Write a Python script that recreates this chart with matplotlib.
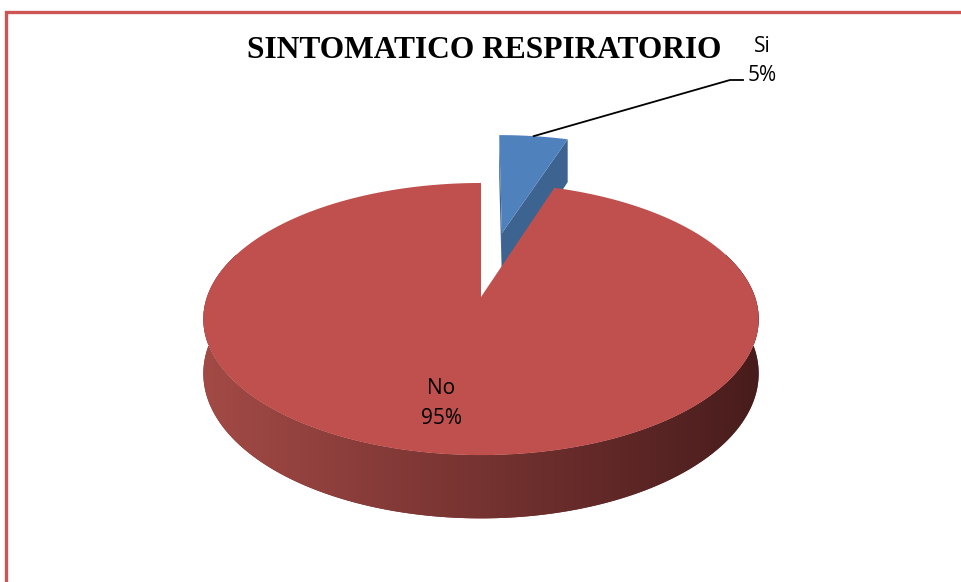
import numpy as np
import matplotlib.pyplot as plt
from matplotlib.patches import Polygon

# datos del grafico
labels = ["Si", "No"]
values = [5, 95]
colors = ["#4F81BD", "#C0504D"]
side_colors = ["#3D6491", None]
explode = [0.53, 0.0]
title = "SINTOMATICO RESPIRATORIO"

W, H = 961, 582
fig = plt.figure(figsize=(W / 100, H / 100), dpi=100)
ax = fig.add_axes([0, 0, 1, 1])
ax.axis("off")

# geometria del pastel 3D (perspectiva simple)
cx, cy, rx, ry, k, depth = 481, 297, 274, 132.5, 0.162, 53


def proj(u, v, h=0.0):
    s = 1.0 / (1.0 + k * v)
    return cx + rx * u * s, cy - ry * v * s + h * s


# angulos: empieza a las 12 en sentido horario
total = float(sum(values))
slices = []
a = 90.0
for val in values:
    sweep = 360.0 * val / total
    slices.append((a - sweep, a))
    a -= sweep

light = np.array([163, 74, 70]) / 255
dark = np.array([72, 28, 28]) / 255
grad = np.linspace(0, 1, 256)[None, :, None]
grad_img = np.repeat(light * (1 - grad) + dark * grad, 8, axis=0)

for i, (t1, t2) in enumerate(slices):
    mid = np.radians((t1 + t2) / 2)
    ou, ov = explode[i] * np.cos(mid), explode[i] * np.sin(mid)
    th = np.radians(np.linspace(t1, t2, 400))
    us = ou + np.cos(th)
    vs = ov + np.sin(th)

    if explode[i] > 0:
        # caras del corte de la porcion separada
        for tt in (t2, t1):
            r = np.radians(tt)
            pts = [proj(ou, ov), proj(ou + np.cos(r), ov + np.sin(r)),
                   proj(ou + np.cos(r), ov + np.sin(r), depth), proj(ou, ov, depth)]
            ax.add_patch(Polygon(pts, closed=True, fc=side_colors[i], ec="none", zorder=2 + i * 3))
    else:
        # costado exterior (parte frontal) con degradado
        front = np.sin(th) < 0.35
        fu, fv = us[front], vs[front]
        upper = [proj(u, v) for u, v in zip(fu, fv)]
        lower = [proj(u, v, depth) for u, v in zip(fu[::-1], fv[::-1])]
        side = Polygon(upper + lower, closed=True, fc=(light + dark) / 2, ec="none", zorder=1 + i * 3)
        ax.add_patch(side)
        xs = [p[0] for p in upper]
        im = ax.imshow(grad_img, extent=(min(xs) - 2, max(xs) + 2, cy + 260, cy - 80),
                       aspect="auto", interpolation="bilinear", zorder=2 + i * 3)
        im.set_clip_path(side)

    top = [proj(ou, ov)] + [proj(u, v) for u, v in zip(us, vs)]
    ax.add_patch(Polygon(top, closed=True, fc=colors[i], ec="none", zorder=3 + i * 3))

ax.set_xlim(0, W)
ax.set_ylim(H, 0)

# etiquetas
lab_font = dict(family=["Open Sans", "DejaVu Sans"], fontsize=15, color="black")
t1, t2 = slices[1]
mid = np.radians((t1 + t2) / 2)
lx, ly = proj(0.72 * np.cos(mid), 0.72 * np.sin(mid))
ax.text(lx - 5, ly, f"{labels[1]}\n{values[1]}%", ha="center", va="center",
        linespacing=1.55, zorder=10, **lab_font)

t1, t2 = slices[0]
mid = np.radians((t1 + t2) / 2)
ou, ov = explode[0] * np.cos(mid), explode[0] * np.sin(mid)
px, py = proj(ou + np.cos(mid), ov + np.sin(mid))
ax.plot([px, 730, 743], [py, 80, 80], color="black", lw=1.3, zorder=10)
ax.text(762, 61, f"{labels[0]}\n{values[0]}%", ha="center", va="center",
        linespacing=1.55, zorder=10, **lab_font)

# titulo
ax.text(484, 58, title, ha="center", va="baseline", fontsize=22.7, fontweight="bold",
        family="Liberation Serif", color="black", zorder=10)

# borde del marco
ax.plot([5.5, 5.5, W + 5], [H + 5, 12, 12], color="#CD5554", lw=2.4,
        solid_joinstyle="miter", clip_on=False, zorder=11)

fig.savefig("out.png", dpi=100)
